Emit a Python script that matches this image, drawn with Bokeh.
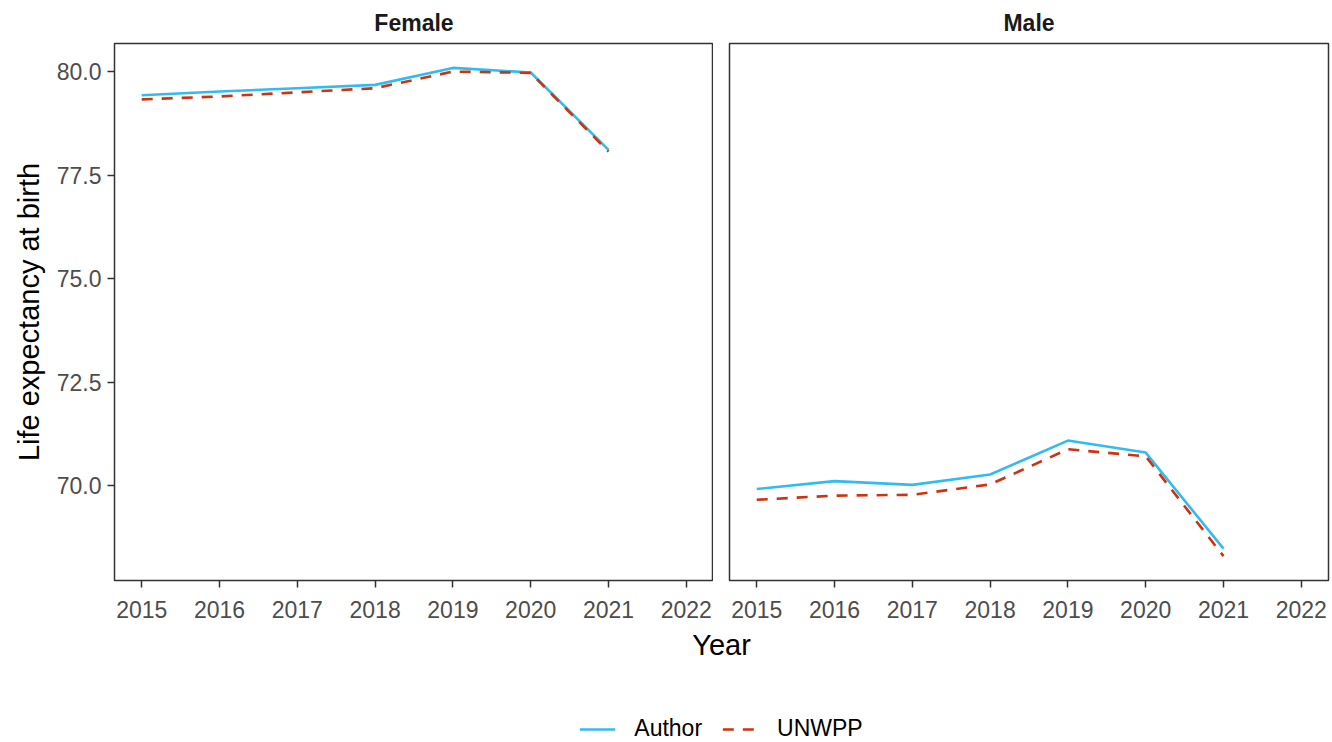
import math
from bokeh.plotting import figure
from bokeh.layouts import column, row
from bokeh.models import Range1d, FixedTicker, Legend, LegendItem, NumeralTickFormatter
from bokeh.embed import file_html
from bokeh.resources import INLINE

# ---- data ----
years = [2015, 2016, 2017, 2018, 2019, 2020, 2021]
female_author = [79.43, 79.52, 79.60, 79.68, 80.09, 79.98, 78.11]
female_unwpp = [79.33, 79.40, 79.50, 79.60, 80.00, 79.97, 78.07]
male_author = [69.92, 70.11, 70.02, 70.27, 71.09, 70.80, 68.48]
male_unwpp = [69.66, 69.76, 69.78, 70.03, 70.88, 70.71, 68.30]
x_ticks = [2015, 2016, 2017, 2018, 2019, 2020, 2021, 2022]
y_ticks = [70.0, 72.5, 75.0, 77.5, 80.0]
panel_names = ["Female", "Male"]
series_names = ["Author", "UNWPP"]

FONT = "Liberation Sans"
C_AUTHOR = "#33BBEE"
C_UNWPP = "#CC3311"
DASH = "11 9"
LW = 2.6

# ggplot-like 5% expansion
x_lo, x_hi = min(x_ticks), max(x_ticks)
x_pad = 0.05 * (x_hi - x_lo)
all_y = female_author + female_unwpp + male_author + male_unwpp
y_lo, y_hi = min(all_y), max(all_y)
y_pad = 0.05 * (y_hi - y_lo)
y_range = Range1d(y_lo - y_pad, y_hi + y_pad)

TOTAL_W = 1332
TOTAL_H = 742
TOP_H = 626


def make_panel(name, author, unwpp, first):
    p = figure(
        width=713 if first else TOTAL_W - 713,
        height=TOP_H,
        x_range=Range1d(x_lo - x_pad, x_hi + x_pad),
        y_range=y_range,
        output_backend="svg",
        toolbar_location=None,
        min_border_left=114 if first else 16,
        min_border_right=0 if first else 4,
        min_border_top=42,
        min_border_bottom=TOP_H - 580,
        background_fill_color="white",
        border_fill_color="white",
    )
    p.title.text = name
    p.title.align = "center"
    p.title.text_font = FONT
    p.title.text_font_size = "23px"
    p.title.text_font_style = "bold"
    p.title.text_color = "#1A1A1A"
    p.title.standoff = 15
    p.xgrid.visible = False
    p.ygrid.visible = False
    p.outline_line_color = "#333333"
    p.outline_line_width = 1.5

    for ax in (p.xaxis, p.yaxis):
        ax.axis_line_color = None
        ax.major_tick_line_color = "#333333"
        ax.major_tick_line_width = 1.5
        ax.major_tick_out = 7
        ax.major_tick_in = 0
        ax.minor_tick_line_color = None
        ax.major_label_text_font = FONT
        ax.major_label_text_font_size = "23px"
        ax.major_label_text_color = "#4D4D4D"
        ax.major_label_standoff = 6
    p.xaxis.major_label_standoff = 13

    p.xaxis.ticker = FixedTicker(ticks=x_ticks)
    p.yaxis.ticker = FixedTicker(ticks=y_ticks)
    p.yaxis.formatter = NumeralTickFormatter(format="0.0")

    if first:
        p.yaxis.axis_label = "Life expectancy at birth"
        p.yaxis.axis_label_text_font = FONT
        p.yaxis.axis_label_text_font_size = "29px"
        p.yaxis.axis_label_text_font_style = "normal"
        p.yaxis.axis_label_text_color = "black"
        p.yaxis.axis_label_standoff = 9
    else:
        p.yaxis.visible = False

    p.line(years, author, line_color=C_AUTHOR, line_width=LW)
    p.line(years, unwpp, line_color=C_UNWPP, line_width=LW, line_dash=DASH)
    return p


p_f = make_panel(panel_names[0], female_author, female_unwpp, True)
p_m = make_panel(panel_names[1], male_author, male_unwpp, False)

# bottom strip: shared x-axis title and legend
bottom = figure(
    width=TOTAL_W,
    height=TOTAL_H - TOP_H,
    x_range=Range1d(0, 1),
    y_range=Range1d(0, 1),
    x_axis_type=None,
    y_axis_type=None,
    output_backend="svg",
    toolbar_location=None,
    min_border_left=114,
    min_border_right=4,
    min_border_top=0,
    min_border_bottom=0,
    outline_line_color=None,
)
bottom.grid.visible = False
bottom.title.text = "Year"
bottom.title.align = "center"
bottom.title.text_font = FONT
bottom.title.text_font_size = "29px"
bottom.title.text_font_style = "normal"
bottom.title.text_color = "black"
bottom.title.standoff = 0

# legend-only renderers (a single missing point, nothing is drawn)
r_a = bottom.line(x=[math.nan], y=[math.nan], line_color=C_AUTHOR, line_width=LW)
r_u = bottom.line(x=[math.nan], y=[math.nan], line_color=C_UNWPP, line_width=LW, line_dash=DASH)
legend = Legend(
    items=[LegendItem(label=series_names[0], renderers=[r_a]),
           LegendItem(label=series_names[1], renderers=[r_u])],
    orientation="horizontal",
    location="bottom_center",
    label_text_font=FONT,
    label_text_font_size="23px",
    label_text_color="black",
    glyph_width=36,
    label_standoff=19,
    spacing=20,
    border_line_color=None,
    background_fill_alpha=0,
    margin=0,
    padding=0,
)
bottom.add_layout(legend)

layout = column(row(p_f, p_m), bottom)

with open("out.html", "w") as f:
    f.write(file_html(layout, INLINE))
